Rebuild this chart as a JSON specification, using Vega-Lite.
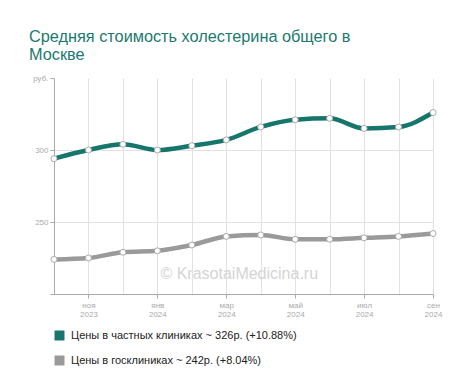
{
  "$schema": "https://vega.github.io/schema/vega-lite/v6.json",
  "autosize": {"type": "none"},
  "width": 379,
  "height": 216,
  "padding": {"left": 54, "top": 78, "right": 41, "bottom": 97},
  "background": "white",
  "title": {
    "text": ["Средняя стоимость холестерина общего в", "Москве"],
    "anchor": "start",
    "frame": "group",
    "dx": -25,
    "offset": 11,
    "font": "Liberation Sans",
    "fontSize": 16.3,
    "fontWeight": "normal",
    "color": "#1b7a6f",
    "lineHeight": 18
  },
  "config": {
    "view": {"stroke": null},
    "font": "Liberation Sans"
  },
  "datasets": {
    "prices": [
      {"month": "окт 2023", "series": "Цены в частных клиниках ~ 326р. (+10.88%)", "price": 294},
      {"month": "ноя 2023", "series": "Цены в частных клиниках ~ 326р. (+10.88%)", "price": 300},
      {"month": "дек 2023", "series": "Цены в частных клиниках ~ 326р. (+10.88%)", "price": 304},
      {"month": "янв 2024", "series": "Цены в частных клиниках ~ 326р. (+10.88%)", "price": 300},
      {"month": "фев 2024", "series": "Цены в частных клиниках ~ 326р. (+10.88%)", "price": 303},
      {"month": "мар 2024", "series": "Цены в частных клиниках ~ 326р. (+10.88%)", "price": 307},
      {"month": "апр 2024", "series": "Цены в частных клиниках ~ 326р. (+10.88%)", "price": 316},
      {"month": "май 2024", "series": "Цены в частных клиниках ~ 326р. (+10.88%)", "price": 321},
      {"month": "июн 2024", "series": "Цены в частных клиниках ~ 326р. (+10.88%)", "price": 322},
      {"month": "июл 2024", "series": "Цены в частных клиниках ~ 326р. (+10.88%)", "price": 315},
      {"month": "авг 2024", "series": "Цены в частных клиниках ~ 326р. (+10.88%)", "price": 316},
      {"month": "сен 2024", "series": "Цены в частных клиниках ~ 326р. (+10.88%)", "price": 326},
      {"month": "окт 2023", "series": "Цены в госклиниках ~ 242р. (+8.04%)", "price": 224},
      {"month": "ноя 2023", "series": "Цены в госклиниках ~ 242р. (+8.04%)", "price": 225},
      {"month": "дек 2023", "series": "Цены в госклиниках ~ 242р. (+8.04%)", "price": 229},
      {"month": "янв 2024", "series": "Цены в госклиниках ~ 242р. (+8.04%)", "price": 230},
      {"month": "фев 2024", "series": "Цены в госклиниках ~ 242р. (+8.04%)", "price": 234},
      {"month": "мар 2024", "series": "Цены в госклиниках ~ 242р. (+8.04%)", "price": 240},
      {"month": "апр 2024", "series": "Цены в госклиниках ~ 242р. (+8.04%)", "price": 241},
      {"month": "май 2024", "series": "Цены в госклиниках ~ 242р. (+8.04%)", "price": 238},
      {"month": "июн 2024", "series": "Цены в госклиниках ~ 242р. (+8.04%)", "price": 238},
      {"month": "июл 2024", "series": "Цены в госклиниках ~ 242р. (+8.04%)", "price": 239},
      {"month": "авг 2024", "series": "Цены в госклиниках ~ 242р. (+8.04%)", "price": 240},
      {"month": "сен 2024", "series": "Цены в госклиниках ~ 242р. (+8.04%)", "price": 242}
    ],
    "watermark": [
      {"month": "мар 2024", "price": 214, "text": "© KrasotaiMedicina.ru"}
    ]
  },
  "layer": [
    {
      "data": {"name": "prices"},
      "mark": {"type": "line", "interpolate": "monotone", "strokeWidth": 4.5},
      "encoding": {
        "x": {
          "field": "month",
          "type": "ordinal",
          "sort": null,
          "scale": {"type": "point", "padding": 0},
          "axis": {
            "title": null,
            "labelAngle": 0,
            "labelFont": "Liberation Sans",
            "labelFontSize": 8,
            "labelColor": "#aaaaaa",
            "labelLineHeight": 9,
            "labelPadding": 3,
            "labelExpr": "datum.value == 'ноя 2023' ? ['ноя', '2023'] : datum.value == 'янв 2024' ? ['янв', '2024'] : datum.value == 'мар 2024' ? ['мар', '2024'] : datum.value == 'май 2024' ? ['май', '2024'] : datum.value == 'июл 2024' ? ['июл', '2024'] : datum.value == 'сен 2024' ? ['сен', '2024'] : ''",
            "domainColor": "#aaaaaa",
            "tickColor": "#aaaaaa",
            "tickSize": 4,
            "tickOpacity": {"condition": {"test": "datum.value == 'ноя 2023' || datum.value == 'янв 2024' || datum.value == 'мар 2024' || datum.value == 'май 2024' || datum.value == 'июл 2024' || datum.value == 'сен 2024'", "value": 1}, "value": 0},
            "grid": true,
            "gridColor": "#e2e2e2",
            "gridWidth": 1
          }
        },
        "y": {
          "field": "price",
          "type": "quantitative",
          "scale": {"domain": [200, 350], "nice": false, "zero": false},
          "axis": {
            "title": null,
            "values": [200, 250, 300, 350],
            "labelExpr": "datum.value == 350 ? 'руб.' : (datum.value == 200 ? '' : datum.label)",
            "labelFont": "Liberation Sans",
            "labelFontSize": 8,
            "labelColor": "#aaaaaa",
            "labelPadding": 2,
            "domainColor": "#aaaaaa",
            "tickColor": "#aaaaaa",
            "tickSize": 4,
            "grid": true,
            "gridColor": "#e2e2e2",
            "gridOpacity": {"condition": {"test": "datum.value == 250 || datum.value == 300", "value": 1}, "value": 0}
          }
        },
        "color": {
          "field": "series",
          "type": "nominal",
          "sort": null,
          "scale": {"range": ["#17766c", "#9a9a9a"]},
          "legend": {
            "title": null,
            "orient": "none",
            "legendX": 0,
            "legendY": 252,
            "direction": "vertical",
            "symbolType": "square",
            "symbolSize": 25,
            "symbolStrokeWidth": 5,
            "symbolOpacity": 1,
            "labelFont": "Liberation Sans",
            "labelFontSize": 11,
            "labelColor": "#222222",
            "labelLimit": 400,
            "rowPadding": 0,
            "labelOffset": 6
          }
        }
      }
    },
    {
      "data": {"name": "prices"},
      "mark": {"type": "point", "filled": true, "fill": "white", "size": 36, "strokeWidth": 1, "opacity": 1},
      "encoding": {
        "x": {"field": "month", "type": "ordinal", "sort": null},
        "y": {"field": "price", "type": "quantitative"},
        "stroke": {"value": "#aaaaaa"}
      }
    },
    {
      "data": {"name": "watermark"},
      "mark": {"type": "text", "font": "Liberation Sans", "fontSize": 16, "color": "#d4d4d4", "align": "center", "baseline": "middle", "dx": 13},
      "encoding": {
        "x": {"field": "month", "type": "ordinal", "sort": null},
        "y": {"field": "price", "type": "quantitative"},
        "text": {"field": "text"}
      }
    }
  ]
}
